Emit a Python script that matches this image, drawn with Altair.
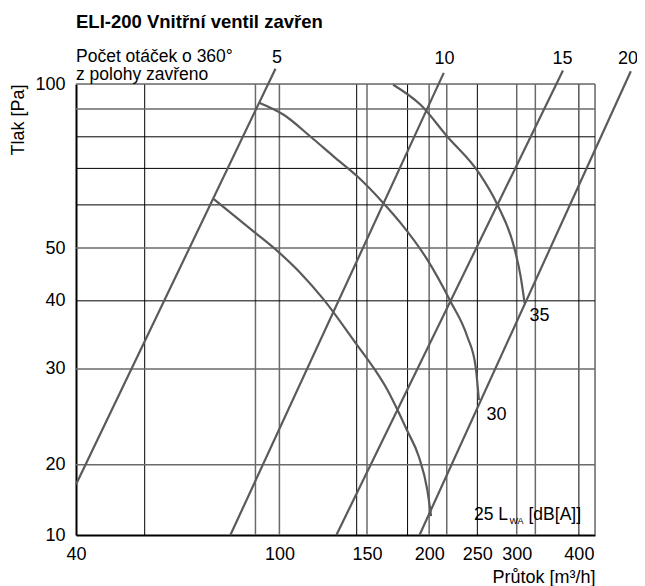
import altair as alt
import pandas as pd

# ---------------- data ----------------
# straight lines (number of 360° turns from closed position)
turn_labels = ["5", "10", "15", "20"]
turn_x0 = [39.0, 79.7, 130.2, 191.3]
turn_y0 = [18.4, 14.87, 14.87, 14.87]
turn_x1 = [98.2, 214.0, 371.6, 508.7]
turn_y1 = [106.7, 104.8, 105.9, 105.5]
turn_lab_x = [98.9, 214.8, 370.9, 502.0]
turn_lab_y = [111.6, 111.3, 111.3, 111.3]

# noise curves L_WA [dB(A)]
c25_x = [73.8, 88.8, 100.0, 110.2, 122.8, 142.2, 154.8, 164.7, 172.5, 180.7, 190.7, 198.3, 201.8]
c25_y = [61.5, 53.6, 49.0, 45.0, 40.2, 33.5, 30.1, 27.5, 25.3, 23.1, 20.7, 18.0, 16.1]
c30_x = [91.3, 102.0, 115.4, 128.6, 143.4, 161.7, 175.2, 198.3, 220.8, 238.6, 248.0, 251.8]
c30_y = [92.3, 87.8, 80.1, 73.6, 67.7, 60.5, 55.6, 47.6, 39.9, 34.4, 30.3, 26.3]
c35_x = [169.3, 192.2, 217.5, 251.8, 274.2, 296.0, 305.4, 311.2]
c35_y = [99.7, 91.6, 80.1, 68.7, 60.1, 50.4, 44.4, 39.6]

curve_labels = ["35", "30"]
curve_lab_x = [333.4, 273.1]
curve_lab_y = [37.5, 24.7]

# grid lines
x_grid_black = [53.6, 143.0, 181.0, 250.0, 400.0]
x_grid_gray = [89.5, 100.0, 150.0, 200.0, 217.0, 300.0, 327.0, 431.0]
y_grid_black = [80.0, 70.0, 60.0, 40.0]
y_grid_gray = [100.0, 90.0, 50.0, 30.0, 20.0]

x_ticks = [39.0, 100, 150, 200, 250, 300, 400]
y_ticks = [14.87, 20, 30, 40, 50, 100]

# ---------------- tables ----------------
turn_rows = []
for i, lab in enumerate(turn_labels):
    turn_rows.append({"x": turn_x0[i], "y": turn_y0[i], "s": lab, "o": 0})
    turn_rows.append({"x": turn_x1[i], "y": turn_y1[i], "s": lab, "o": 1})
turn_df = pd.DataFrame(turn_rows)

curve_rows = []
for name, xs, ys in [("25", c25_x, c25_y), ("30", c30_x, c30_y), ("35", c35_x, c35_y)]:
    for j, (a, b) in enumerate(zip(xs, ys)):
        curve_rows.append({"x": a, "y": b, "s": name, "o": j})
curve_df = pd.DataFrame(curve_rows)

lab_df = pd.DataFrame({
    "x": turn_lab_x + curve_lab_x,
    "y": turn_lab_y + curve_lab_y,
    "t": turn_labels + curve_labels,
})

lwa_df = pd.DataFrame({
    "x": [246.1, 290.0, 316.8],
    "y": [16.2, 15.8, 16.2],
    "t": ["25 L", "WA", "[dB[A]]"],
    "fs": [17.5, 9, 17.5],
})

FONT = "Liberation Sans"
GRAY = "#6a6a6a"
LINE = "#5a5a5a"

x_scale = alt.Scale(type="log", domain=[39, 431], nice=False)
y_scale = alt.Scale(type="log", domain=[14.87, 100], nice=False)

x_axis = alt.Axis(
    values=x_ticks,
    labelExpr="datum.value < 50 ? '40' : format(datum.value, 'd')",
    grid=False, ticks=False, domainColor="black", domainWidth=2,
    labelFont=FONT, labelFontSize=18, labelColor="black", labelPadding=10,
    labelOverlap=False, labelBound=False, labelFlush=False,
    title="Průtok [m³/h]", titleAnchor="end", titleFont=FONT, titleFontSize=18,
    titleFontWeight="normal", titleColor="black", titlePadding=5,
)
y_axis = alt.Axis(
    values=y_ticks,
    labelExpr="datum.value < 15 ? '10' : format(datum.value, 'd')",
    grid=False, ticks=False, domainColor="black", domainWidth=2,
    labelFont=FONT, labelFontSize=18, labelColor="black", labelPadding=11,
    labelOverlap=False, labelBound=False, labelFlush=False,
    title="Tlak [Pa]", titleAnchor="end", titleFont=FONT, titleFontSize=18,
    titleFontWeight="normal", titleColor="black", titlePadding=7,
)

X = alt.X("x:Q", scale=x_scale, axis=x_axis)
Y = alt.Y("y:Q", scale=y_scale, axis=y_axis)

vgb = alt.Chart(pd.DataFrame({"x": x_grid_black})).mark_rule(color="black", strokeWidth=1).encode(x=X)
vgg = alt.Chart(pd.DataFrame({"x": x_grid_gray})).mark_rule(color=GRAY, strokeWidth=1.5).encode(x=X)
hgb = alt.Chart(pd.DataFrame({"y": y_grid_black})).mark_rule(color="black", strokeWidth=1).encode(y=Y)
hgg = alt.Chart(pd.DataFrame({"y": y_grid_gray})).mark_rule(color=GRAY, strokeWidth=1.5).encode(y=Y)

turns = alt.Chart(turn_df).mark_line(color=LINE, strokeWidth=2.2).encode(
    x=X, y=Y, detail="s:N", order="o:Q")
curves = alt.Chart(curve_df).mark_line(color=LINE, strokeWidth=2.2, interpolate="monotone").encode(
    x=X, y=Y, detail="s:N", order="o:Q")

labels = alt.Chart(lab_df).mark_text(font=FONT, fontSize=18, color="black", align="center", baseline="middle").encode(
    x=X, y=Y, text="t:N")
lwa = alt.Chart(lwa_df).mark_text(font=FONT, color="black", align="left", baseline="middle").encode(
    x=X, y=Y, text="t:N", size=alt.Size("fs:Q", scale=None, legend=None))

chart = alt.layer(vgb, vgg, hgb, hgg, turns, curves, labels, lwa).properties(
    width=519,
    height=451,
    autosize=alt.AutoSizeParams(type="none"),
    padding={"left": 68, "top": 76, "right": 42, "bottom": 51},
    title=alt.TitleParams(
        text="ELI-200 Vnitřní ventil zavřen",
        subtitle=["Počet otáček o 360°", "z polohy zavřeno"],
        anchor="start", frame="group",
        font=FONT, fontSize=18.5, fontWeight="bold", color="black",
        subtitleFont=FONT, subtitleFontSize=17.5, subtitleColor="black",
        subtitleLineHeight=18, subtitlePadding=16, offset=4, dy=38,
    ),
).configure_view(stroke=None).configure(background="white")

chart.save("out.html", embed_options={"renderer": "svg", "actions": False})
